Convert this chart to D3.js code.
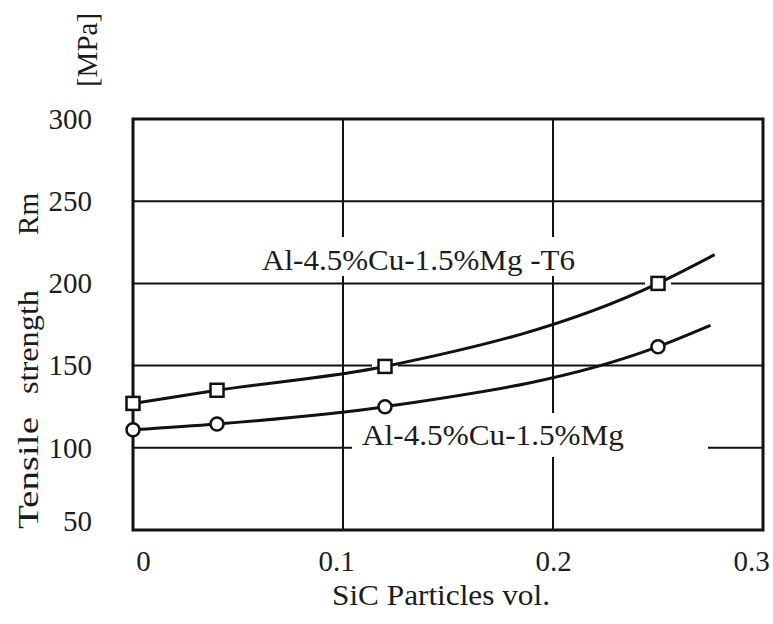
<!DOCTYPE html>
<html>
<head>
<meta charset="utf-8">
<script src="https://cdn.jsdelivr.net/npm/d3@7"></script>
<style>
  html, body { margin: 0; padding: 0; background: #fff; }
  svg { display: block; }
  text { font-family: "Liberation Serif", "Times New Roman", serif; fill: #1c1c1c; }
</style>
</head>
<body>
<svg width="773" height="624"></svg>
<script>
const xTicks = [0, 0.1, 0.2, 0.3];
const yTicks = [50, 100, 150, 200, 250, 300];

// T6 heat treated; the last entry of each curve is only where the line stops
const t6Vol = [0, 0.04, 0.12, 0.25, 0.277];
const t6Rm = [127, 135, 149.5, 200, 217.5];
// untreated alloy
const baseVol = [0, 0.04, 0.12, 0.25, 0.275];
const baseRm = [111, 114.5, 125, 161.5, 174.5];
const markedCount = 4;

const seriesNames = ['Al-4.5%Cu-1.5%Mg -T6', 'Al-4.5%Cu-1.5%Mg'];
const yTitleWords = ['Tensile', 'strength', 'Rm'];
const yUnit = '[MPa]';
const xTitle = 'SiC Particles vol.';

const svg = d3.select('svg');

const x = d3.scaleLinear().domain([0, 0.3]).range([133, 763]);
const y = d3.scaleLinear().domain([50, 300]).range([530, 119]);

const t6 = t6Vol.map((v, i) => ({ v, rm: t6Rm[i] }));
const base = baseVol.map((v, i) => ({ v, rm: baseRm[i] }));

// grid
const grid = svg.append('g')
  .attr('class', 'grid')
  .attr('stroke', '#111')
  .attr('stroke-width', 2);

grid.selectAll('line.h')
  .data(yTicks.slice(1, -1))
  .enter()
  .append('line')
  .attr('class', 'h')
  .attr('x1', x(0))
  .attr('x2', x(0.3))
  .attr('y1', d => y(d))
  .attr('y2', d => y(d));

grid.selectAll('line.v')
  .data(xTicks.slice(1, -1))
  .enter()
  .append('line')
  .attr('class', 'v')
  .attr('x1', d => x(d))
  .attr('x2', d => x(d))
  .attr('y1', y(300))
  .attr('y2', y(50));

// series labels, each with a white patch that breaks the grid behind it
const labels = [
  { text: seriesNames[0], left: 262, base: 270, len: 313, pad: [7, 7, 0, 7] },
  { text: seriesNames[1], left: 362, base: 445, len: 262, pad: [6, 84, 6, 10] }
];

const labelG = svg.append('g').attr('class', 'labels');
labels.forEach(l => {
  const t = labelG.append('text')
    .attr('x', l.left)
    .attr('y', l.base)
    .attr('font-size', 29)
    .attr('textLength', l.len)
    .attr('lengthAdjust', 'spacingAndGlyphs')
    .text(l.text);
  const b = t.node().getBBox();
  labelG.insert('rect', 'text')
    .attr('x', b.x - l.pad[3])
    .attr('y', b.y - l.pad[0])
    .attr('width', b.width + l.pad[1] + l.pad[3])
    .attr('height', b.height + l.pad[0] + l.pad[2])
    .attr('fill', '#fff');
});

// white halo round the squares cuts the grid lines
svg.append('g')
  .selectAll('rect')
  .data(t6.slice(0, markedCount))
  .enter()
  .append('rect')
  .attr('x', d => x(d.v) - 13)
  .attr('y', d => y(d.rm) - 10)
  .attr('width', 26)
  .attr('height', 20)
  .attr('fill', '#fff');

// frame
svg.append('rect')
  .attr('x', x(0))
  .attr('y', y(300))
  .attr('width', x(0.3) - x(0))
  .attr('height', y(50) - y(300))
  .attr('fill', 'none')
  .attr('stroke', '#111')
  .attr('stroke-width', 3);

const line = d3.line()
  .x(d => x(d.v))
  .y(d => y(d.rm))
  .curve(d3.curveMonotoneX);

svg.selectAll('path.curve')
  .data([t6, base])
  .enter()
  .append('path')
  .attr('class', 'curve')
  .attr('d', line)
  .attr('fill', 'none')
  .attr('stroke', '#111')
  .attr('stroke-width', 3);

svg.append('g')
  .selectAll('rect')
  .data(t6.slice(0, markedCount))
  .enter()
  .append('rect')
  .attr('x', d => x(d.v) - 6.5)
  .attr('y', d => y(d.rm) - 6.5)
  .attr('width', 13)
  .attr('height', 13)
  .attr('fill', '#fff')
  .attr('stroke', '#111')
  .attr('stroke-width', 2.5);

svg.append('g')
  .selectAll('circle')
  .data(base.slice(0, markedCount))
  .enter()
  .append('circle')
  .attr('cx', d => x(d.v))
  .attr('cy', d => y(d.rm))
  .attr('r', 6.5)
  .attr('fill', '#fff')
  .attr('stroke', '#111')
  .attr('stroke-width', 2.5);

// axes, labels only
const xAxis = svg.append('g')
  .attr('transform', `translate(0,${y(50)})`)
  .call(d3.axisBottom(x)
    .tickValues(xTicks)
    .tickSize(0)
    .tickPadding(20)
    .tickFormat(d => d === 0 ? '0' : d3.format('.1f')(d)));

const yAxis = svg.append('g')
  .attr('transform', `translate(${x(0)},0)`)
  .call(d3.axisLeft(y)
    .tickValues(yTicks)
    .tickSize(0)
    .tickPadding(41));

[xAxis, yAxis].forEach(a => {
  a.select('.domain').remove();
  a.selectAll('text')
    .attr('font-size', 29)
    .attr('font-family', '"Liberation Serif", "Times New Roman", serif')
    .attr('fill', '#1c1c1c');
});

// the scan puts the end labels a little inside the frame
xAxis.selectAll('text')
  .attr('dx', d => d === 0 ? 10 : d === 0.3 ? -12 : d === 0.1 ? -7 : 0);
yAxis.selectAll('text')
  .filter(d => d === 50)
  .attr('dy', '0.02em');

svg.append('text')
  .attr('x', 441)
  .attr('y', 605)
  .attr('text-anchor', 'middle')
  .attr('font-size', 29)
  .attr('textLength', 218)
  .attr('lengthAdjust', 'spacingAndGlyphs')
  .text(xTitle);

// y title is spread out along the axis
const yTitleCenters = [473, 342, 214];
const yTitleLengths = [112, 104, 42];
svg.selectAll('text.ytitle')
  .data(yTitleWords)
  .enter()
  .append('text')
  .attr('class', 'ytitle')
  .attr('transform', (d, i) => `translate(38,${yTitleCenters[i]}) rotate(-90)`)
  .attr('text-anchor', 'middle')
  .attr('font-size', 30)
  .attr('textLength', (d, i) => yTitleLengths[i])
  .attr('lengthAdjust', 'spacingAndGlyphs')
  .text(d => d);

svg.append('text')
  .attr('transform', 'translate(97,50) rotate(-90)')
  .attr('text-anchor', 'middle')
  .attr('font-size', 29)
  .text(yUnit);
</script>
</body>
</html>
